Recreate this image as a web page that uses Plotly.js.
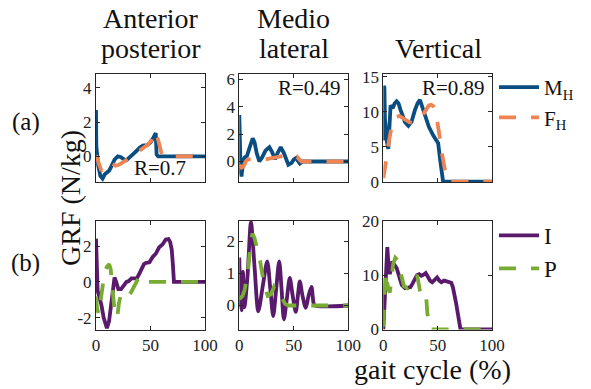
<!DOCTYPE html>
<html><head><meta charset="utf-8">
<script src="https://cdn.plot.ly/plotly-3.0.1.min.js"></script>
<style>html,body{margin:0;padding:0;background:#fff}#chart{width:591px;height:389px}</style>
</head><body><div id="chart"></div>
<script>
// ---------- data (gait cycle %, GRF N/kg) ----------
const colTitles = [["Anterior","posterior"],["Medio","lateral"],["","Vertical"]];
const rowLabels = ["(a)","(b)"];
const seriesNames = ["M<sub>H</sub>","F<sub>H</sub>","I","P"];
const rValues = ["R=0.7","R=0.49","R=0.89"];

// (a) Anterior-posterior
const apMH_x = [0,0.3,2,4,6,8,10,12,14,17,20,23,26,28,31,34,37,40,43,47,50,52,54,54.8,55.6,57,100];
const apMH_y = [2.7,0.6,-0.5,-1.15,-1.3,-1.05,-0.95,-0.85,-0.6,-0.2,0.0,-0.05,-0.2,-0.23,-0.05,0.1,0.3,0.5,0.62,0.65,0.8,1.0,1.3,1.35,0.1,0,0];
const apFH_x = [0,2,4,5,7,9,12,15,18,21,25,28,32,36,40,44,48,51,54,56,58,60,62,100];
const apFH_y = [0.05,-0.3,-0.7,-0.85,-0.7,-0.5,-0.35,-0.45,-0.55,-0.5,-0.35,-0.23,-0.05,0.15,0.35,0.55,0.7,0.95,1.45,1.2,0.6,0.2,0,0];
// (a) Medio-lateral
const mlMH_x = [0,0.4,1.2,2,3.7,5,7,9,11,12.3,14,16,18.4,21,24,27.6,30,32.8,35,38,41,43,45,48,50,52,54,55.6,58,100];
const mlMH_y = [3.4,1.0,-0.7,-1.1,0.1,0.3,0.4,0.9,1.5,1.7,1.4,0.6,0.0,0.3,0.8,1.05,0.7,0.17,0.6,1.05,0.6,0.1,-0.24,-0.1,0.15,0.25,0.05,-0.15,0,0];
const mlFH_x = [0,2,4,6,8,11,15,20,25,30,34,37,40,44,48,51,53,55,57,100];
const mlFH_y = [-0.25,-0.45,-0.35,0.0,0.15,0.17,0.15,0.17,0.18,0.25,0.3,0.35,0.4,0.3,0.2,0.3,0.35,0.15,0,0];
// (a) Vertical
const vMH_x = [0,0.5,1,1.5,2.5,3.5,4.6,5.5,6.7,8.6,10.5,12.3,14,16,18,20,23,26,29,31.5,33.7,36,39,42,46,50.5,52,53.5,55,100];
const vMH_y = [5.9,13.7,13.5,9,6.5,5.5,4.7,8,10.9,10.5,11.2,11.5,11.2,10.2,9.2,8.5,8.0,8.6,10.2,11.2,11.7,10.6,9.0,7.8,6.6,5.5,3.5,1.5,0,0];
const vFH_x = [0,1.5,3,4.5,6,8,10,12,15,18,21,24,27,30,33,36,39,42,44,46,48,50,52,54,56,58,60,100];
const vFH_y = [0.5,1.8,3.4,5.2,6.8,8.2,9.0,9.3,9.4,9.1,8.8,8.5,8.4,8.5,8.8,9.5,10.3,10.9,11.0,10.8,10.2,8.5,6.3,4.0,1.8,0.5,0,0];

// (b) Anterior-posterior
const apI_x = [0,0.5,1.5,3,5,7,9,10,12,14,15.5,17,18.5,20.5,23,26,28,30,32.5,35,37.5,40,42,44,46,49,52,55,58,61,64,66.5,68,69.5,70.5,71.5,100];
const apI_y = [2.43,0.2,-0.5,-0.85,-1.3,-2.0,-2.5,-2.6,-2.2,-1.3,-0.5,0.25,0.0,-0.4,-0.4,-0.15,0.0,0.05,0.2,0.2,0.2,0.5,0.8,1.0,1.07,1.1,1.4,1.6,1.95,2.1,2.38,2.4,2.25,1.8,1.0,0,0];
const apP_x = [0,1,2.5,4,6,8,10,12,13.5,15,16.5,18,19.5,21,23,25,27,29,32,35,38,40,42,44,100];
const apP_y = [-0.8,-1.5,-1.8,-1.2,-0.2,0.6,0.85,1.0,0.7,-0.5,-1.3,-1.9,-2.0,-1.2,-0.65,-0.7,-0.8,-0.85,-0.6,-0.2,0.1,0.3,0.2,0,0];
// (b) Medio-lateral
const mlI_x = [0,1,2,3.3,4.7,7.5,10.7,14,17.4,21.5,25.6,28.5,31.1,33.8,36.6,38.8,40.9,43.6,46.3,49,51.8,53.7,55.5,58,61,63.5,66.2,68,69.2,100];
const mlI_y = [1.5,0.2,-0.15,1.05,-0.05,0.9,2.6,1.2,-0.18,0.6,1.38,0.5,-0.33,0.5,1.38,0.5,-0.43,0.2,0.86,0.3,-0.2,0.3,0.75,0.3,-0.07,0.3,0.58,0.1,0,0];
const mlP_x = [0,3,5,8,10,12,14,16,19,22,26,29,32,35,39,42,45,100];
const mlP_y = [0.2,0.3,0.5,1.1,1.8,2.25,2.1,1.8,1.4,0.8,0.3,0.35,0.6,0.5,0.25,0.05,0,0];
// (b) Vertical
const vI_x = [0,1,2.5,3.7,5,6,8,10,12.3,15,17,20,23,25,27,29,31,33,35,37,39,41,43,45,47,49.5,51.5,53.5,56,58,60.5,62.5,64,65.5,67,68.5,70.5,71,100];
const vI_y = [0,4,11,15.2,11,10.2,12.2,12,11.3,9.5,8.2,7.6,7.7,7.8,8.5,9.3,10,10.2,9.9,10.1,10.4,9.7,9.0,8.7,9.2,9.6,9.0,8.7,9.0,8.9,8.7,8.6,7.8,6.5,4.8,3.0,0.2,0,0];
const vP_x = [0,1,2,3,4.5,6,7.5,9,11,13,15,17,19,22,25,28,31,33,34.5,36,38,39.5,40.5,42,43,100];
const vP_y = [0.5,4,10.5,9.5,7.5,6.8,9,12,13.2,12.8,11.2,9.2,8.0,7.6,8,9.3,10.0,8,6,5.5,5.8,5.9,3,0.5,0,0];

// axis ticks
const xTicks = [0,50,100];
const yTickVals = [[0,2,4],[0,2,4,6],[0,5,10,15],[-2,0,2],[0,1,2],[0,10,20]];
const yTickText = [["0","2","4"],["0","2","4","6"],["0","5","10","15"],["-2","0","2"],["0","1","2"],["0","10","20"]];
const yRanges = [[-1.5,4.8],[-1.5,6.4],[-0.05,15.4],[-2.67,3.42],[-0.75,2.64],[-0.02,20]];

// ---------- styling ----------
const W = 591, H = 389;
const FONT = "'Liberation Serif', 'Times New Roman', 'DejaVu Serif', serif";
const AX = "#262626";
const cBlue = "#0a4d80", cOrange = "#ef8352", cPurple = "#5a1a6c", cGreen = "#77ab31";
const DASH = "17px,15px";
const colPx = [[96,205],[239.3,348.3],[383.3,492]];
const rowPx = [[74,182],[221,329.5]];
const px = v => v / W, py = v => 1 - v / H;

function tr(x, y, k, color, dash, name, show, legend) {
  return {x: x, y: y, xaxis: "x" + (k === 1 ? "" : k), yaxis: "y" + (k === 1 ? "" : k),
    type: "scatter", mode: "lines", name: name, showlegend: show, legend: legend,
    line: {color: color, width: 3.8, dash: dash}, hoverinfo: "skip"};
}
const data = [
  tr(apMH_x, apMH_y, 1, cBlue, "solid", seriesNames[0], true, "legend"),
  tr(apFH_x, apFH_y, 1, cOrange, DASH, seriesNames[1], true, "legend"),
  tr(mlMH_x, mlMH_y, 2, cBlue, "solid", seriesNames[0], false, "legend"),
  tr(mlFH_x, mlFH_y, 2, cOrange, DASH, seriesNames[1], false, "legend"),
  tr(vMH_x, vMH_y, 3, cBlue, "solid", seriesNames[0], false, "legend"),
  tr(vFH_x, vFH_y, 3, cOrange, DASH, seriesNames[1], false, "legend"),
  tr(apI_x, apI_y, 4, cPurple, "solid", seriesNames[2], true, "legend2"),
  tr(apP_x, apP_y, 4, cGreen, DASH, seriesNames[3], true, "legend2"),
  tr(mlI_x, mlI_y, 5, cPurple, "solid", seriesNames[2], false, "legend2"),
  tr(mlP_x, mlP_y, 5, cGreen, DASH, seriesNames[3], false, "legend2"),
  tr(vI_x, vI_y, 6, cPurple, "solid", seriesNames[2], false, "legend2"),
  tr(vP_x, vP_y, 6, cGreen, DASH, seriesNames[3], false, "legend2")
];
data[8].line.shape = "spline"; data[8].line.smoothing = 0.8;

const layout = {
  width: W, height: H, margin: {l: 0, r: 0, t: 0, b: 0},
  paper_bgcolor: "#fff", plot_bgcolor: "#fff",
  font: {family: FONT, color: "#111", size: 17},
  legend: {x: px(494), y: py(67), xanchor: "left", yanchor: "top", bgcolor: "rgba(0,0,0,0)",
    itemwidth: 40, font: {size: 21, family: FONT, color: "#111"}, tracegroupgap: 0},
  legend2: {x: px(494), y: py(214), xanchor: "left", yanchor: "top", bgcolor: "rgba(0,0,0,0)",
    itemwidth: 40, font: {size: 23, family: FONT, color: "#111"}, tracegroupgap: 0},
  annotations: [], showlegend: true
};
for (let k = 1; k <= 6; k++) {
  const c = (k - 1) % 3, r = Math.floor((k - 1) / 3);
  const s = k === 1 ? "" : String(k);
  layout["xaxis" + s] = {domain: [px(colPx[c][0]), px(colPx[c][1])], anchor: "y" + s,
    range: [0, 100], tickvals: xTicks, ticktext: xTicks.map(String), showticklabels: r === 1,
    ticks: "inside", ticklen: 4, tickwidth: 1, tickcolor: AX, showline: true, linecolor: AX,
    linewidth: 1, mirror: "ticks", showgrid: false, zeroline: false,
    tickfont: {size: 17, family: FONT, color: "#222"}};
  layout["yaxis" + s] = {domain: [py(rowPx[r][1]), py(rowPx[r][0])], anchor: "x" + s,
    range: yRanges[k - 1], tickvals: yTickVals[k - 1], ticktext: yTickText[k - 1],
    ticks: "inside", ticklen: 4, tickwidth: 1, tickcolor: AX, showline: true, linecolor: AX,
    linewidth: 1, mirror: "ticks", showgrid: false, zeroline: false,
    tickfont: {size: 17, family: FONT, color: "#222"}};
}
function ann(text, x, y, size, extra) {
  layout.annotations.push(Object.assign({text: text, x: px(x), y: py(y), xref: "paper", yref: "paper",
    xanchor: "center", yanchor: "middle", showarrow: false,
    font: {family: FONT, size: size, color: "#111"}}, extra || {}));
}
const titleCx = [150.5, 293.8, 438];
for (let c = 0; c < 3; c++) {
  if (colTitles[c][0]) ann(colTitles[c][0], titleCx[c], 18, 28);
  ann(colTitles[c][1], titleCx[c], 48, 28);
}
ann(rowLabels[0], 25.5, 122, 25);
ann(rowLabels[1], 25.5, 263, 25);
ann("GRF (N/kg)", 70, 198, 28, {textangle: -90});
ann("gait cycle (%)", 432.5, 369, 28);
ann(rValues[0], 160, 168, 21);
ann(rValues[1], 309, 88, 21);
ann(rValues[2], 453.5, 88, 21);

Plotly.newPlot("chart", data, layout, {staticPlot: true, displayModeBar: false});
</script></body></html>
